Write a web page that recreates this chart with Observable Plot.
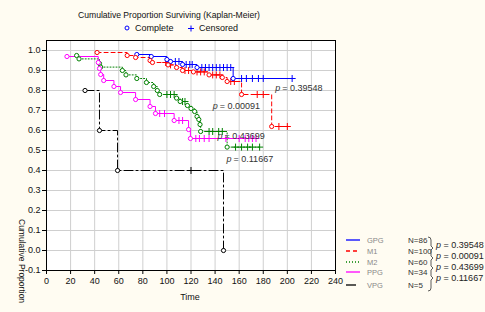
<!DOCTYPE html>
<html><head><meta charset="utf-8">
<script src="https://cdn.jsdelivr.net/npm/d3@7"></script>
<script src="https://cdn.jsdelivr.net/npm/@observablehq/plot@0.6"></script>
<style>
html,body{margin:0;padding:0;background:#fffcf2;}
#chart{position:relative;width:485px;height:312px;overflow:hidden;}
svg{font-family:"Liberation Sans",Arial,sans-serif;}
</style></head><body><div id="chart"></div>
<script>
// ---- data ----
const groups = ["GPG", "M1", "M2", "PPG", "VPG"];
const groupN = ["N=86", "N=100", "N=60", "N=34", "N=5"];
const groupColors = ["#0000ff", "#ff0000", "#008000", "#ff00ff", "#000000"];

// event times and survival after each event (Kaplan-Meier step values)
const gpgT = [75, 87, 100, 103, 113, 125, 155];
const gpgS = [0.98, 0.97, 0.955, 0.945, 0.93, 0.915, 0.86];
const gpgCensored = [107, 110, 116, 119, 121, 129, 132, 135, 138, 141, 144, 147, 150, 153, 162, 166, 171, 176, 180, 204];

const m1T = [42, 67, 74, 86, 88, 101, 108, 113, 122, 135, 146, 150, 162, 187];
const m1S = [0.99, 0.975, 0.965, 0.95, 0.94, 0.928, 0.915, 0.90, 0.893, 0.878, 0.865, 0.845, 0.78, 0.62];
const m1Censored = [99, 103, 115, 118, 125, 128, 131, 138, 141, 144, 153, 156, 175, 180, 193, 200];

const m2T = [25, 27, 44, 45, 63, 66, 75, 83, 89, 92, 94, 108, 111, 117, 120, 123, 125, 126.5, 127.5, 128, 150];
const m2S = [0.975, 0.958, 0.935, 0.917, 0.90, 0.878, 0.86, 0.84, 0.82, 0.80, 0.78, 0.762, 0.745, 0.725, 0.71, 0.695, 0.67, 0.655, 0.63, 0.595, 0.517];
const m2Censored = [100, 103, 106, 113, 115, 135, 138, 143, 146, 157, 162, 167, 171, 177];

const ppgT = [17, 43, 44, 45, 47.5, 56, 61.5, 74, 86, 90.5, 106, 118, 119.5];
const ppgS = [0.97, 0.94, 0.91, 0.88, 0.85, 0.82, 0.79, 0.755, 0.72, 0.685, 0.65, 0.605, 0.56];
const ppgCensored = [94, 98, 110, 113, 124, 127, 131, 135, 149, 160, 165, 168, 171, 174];

const vpgT = [32, 44, 59, 147];
const vpgS = [0.8, 0.6, 0.4, 0.0];
const vpgCensored = [120];

const pairP = ["0.39548", "0.00091", "0.43699", "0.11667"];
const pLabelT = [190, 138, 142, 149.5];
const pLabelS = [0.81, 0.72, 0.57, 0.455];

const xTicks = [0, 20, 40, 60, 80, 100, 120, 140, 160, 180, 200, 220, 240];
const yTicks = [-0.1, 0.0, 0.1, 0.2, 0.3, 0.4, 0.5, 0.6, 0.7, 0.8, 0.9, 1.0];

// ---- build tables ----
const eventT = [gpgT, m1T, m2T, ppgT, vpgT];
const eventS = [gpgS, m1S, m2S, ppgS, vpgS];
const censT = [gpgCensored, m1Censored, m2Censored, ppgCensored, vpgCensored];
const dashes = [null, "4,3", "1,2", null, "9,3,2,3"];

const events = [], censors = [], lines = [];
groups.forEach((g, i) => {
  const ev = eventT[i].map((t, j) => ({g, t, s: eventS[i][j]}));
  const cs = censT[i].map(t => {
    let s = 1;
    ev.forEach(e => { if (e.t <= t) s = e.s; });
    return {g, t, s};
  });
  events.push(...ev);
  censors.push(...cs);
  const pts = [...ev, ...cs.filter(c => c.t >= ev[0].t)].sort((a, b) => a.t - b.t);
  lines.push(pts);
});

const pLabels = pairP.map((p, i) => ({t: pLabelT[i], s: pLabelS[i], txt: "= " + p}));

const lineMarks = groups.map((g, i) => Plot.line(lines[i], {
  x: "t", y: "s", stroke: groupColors[i], strokeWidth: 1,
  curve: "step-after", strokeDasharray: dashes[i] || undefined
}));

const chart = Plot.plot({
  width: 485, height: 312,
  marginLeft: 46, marginRight: 150, marginTop: 40, marginBottom: 42,
  style: {background: "transparent", fontFamily: "Liberation Sans, Arial, sans-serif", fontSize: "9px"},
  x: {domain: [0, 240]},
  y: {domain: [-0.1, 1.05]},
  color: {domain: groups, range: groupColors},
  marks: [
    Plot.frame({fill: "white", stroke: null}),
    Plot.gridX(xTicks, {stroke: "#cfcfcf", strokeOpacity: 1, strokeWidth: 1}),
    Plot.gridY(yTicks, {stroke: "#cfcfcf", strokeOpacity: 1, strokeWidth: 1}),
    ...lineMarks,
    Plot.dot(censors, {x: "t", y: "s", stroke: "g", symbol: "plus", r: 2.4, strokeWidth: 1}),
    Plot.dot(events, {x: "t", y: "s", stroke: "g", fill: "white", r: 2.1, strokeWidth: 1}),
    Plot.frame({stroke: "black", strokeWidth: 1}),
    Plot.axisX({ticks: xTicks, tickSize: 4, tickPadding: 3, label: null, fontSize: 9, fill: "#111"}),
    Plot.axisY({ticks: yTicks, tickSize: 4, tickPadding: 2, label: null, fontSize: 9, fill: "#111",
      tickFormat: d => d.toFixed(1)}),
    Plot.text(pLabels, {x: "t", y: "s", text: () => "p", textAnchor: "start", fontStyle: "italic",
      fontSize: 9, fill: "#333"}),
    Plot.text(pLabels, {x: "t", y: "s", text: "txt", textAnchor: "start", dx: 7,
      fontSize: 9, fill: "#333"})
  ]
});
document.getElementById("chart").appendChild(chart);

// ---- titles, legends, axis labels ----
const svg = d3.select(chart);
const ann = svg.append("g").attr("font-family", "Liberation Sans, Arial, sans-serif")
  .attr("text-anchor", "start");
ann.append("text").attr("x", 169).attr("y", 18).attr("text-anchor", "middle")
  .attr("font-size", 8.6).attr("fill", "#111").text("Cumulative Proportion Surviving (Kaplan-Meier)");
ann.append("circle").attr("cx", 127).attr("cy", 28).attr("r", 2).attr("fill", "none").attr("stroke", "#0000ff");
ann.append("text").attr("x", 135).attr("y", 31).attr("font-size", 9).attr("fill", "#111").text("Complete");
ann.append("path").attr("d", "M188,28.5h6M191,25.5v6").attr("stroke", "#0000ff");
ann.append("text").attr("x", 199).attr("y", 31).attr("font-size", 9).attr("fill", "#111").text("Censored");
ann.append("text").attr("x", 190).attr("y", 300).attr("text-anchor", "middle")
  .attr("font-size", 9).attr("fill", "#111").text("Time");
ann.append("text").attr("transform", "translate(19,219) rotate(90)")
  .attr("font-size", 8.5).attr("fill", "#111").text("Cumulative Proportion");

// bottom-right legend
const ly = [240, 251, 262, 272, 285];
groups.forEach((g, i) => {
  const l = ann.append("line").attr("x1", 346).attr("x2", 360).attr("y1", ly[i]).attr("y2", ly[i])
    .attr("stroke", groupColors[i]).attr("stroke-width", 1.3);
  if (dashes[i]) l.attr("stroke-dasharray", i === 4 ? "10,4" : dashes[i]);
  ann.append("text").attr("x", 367).attr("y", ly[i] + 3).attr("font-size", 7.5).attr("fill", "#888").text(g);
  ann.append("text").attr("x", 408).attr("y", ly[i] + 3).attr("font-size", 8).attr("fill", "#333").text(groupN[i]);
});
// brackets
ann.append("path")
  .attr("d", "M428,237 q3,0 3,3 v6 l2,2 l-2,2 v6 l2,2 l-2,2 v6 l2,2 l-2,2 v6 l2,2 l-2,2 v8 q0,3 -3,3")
  .attr("fill", "none").attr("stroke", "#333").attr("stroke-width", 0.8);
const py = [248, 259, 269.5, 280.5];
pairP.forEach((p, i) => {
  const t = ann.append("text").attr("x", 436).attr("y", py[i]).attr("font-size", 9).attr("fill", "#222");
  t.append("tspan").attr("font-style", "italic").text("p");
  t.append("tspan").text(" = " + p);
});
</script></body></html>
